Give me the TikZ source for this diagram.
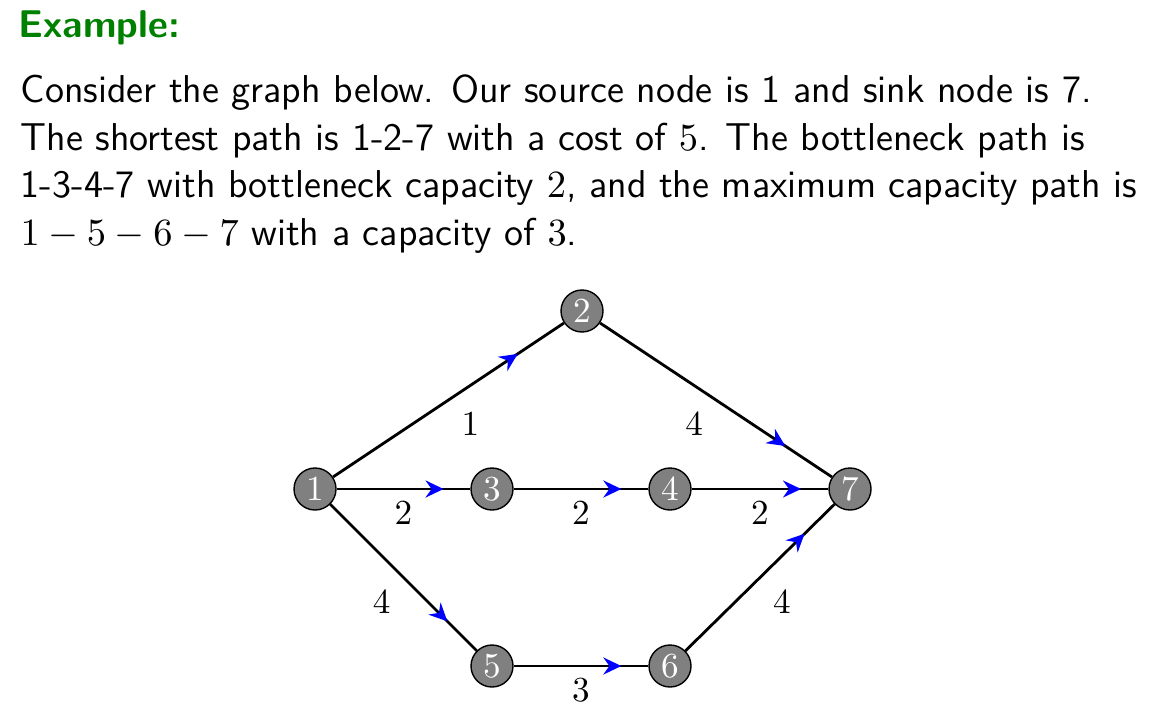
\documentclass[tikz,border=0pt]{standalone}
\usepackage{fontspec}
\usepackage{tikz}
\usetikzlibrary{arrows.meta,decorations.markings}
\definecolor{cexa}{HTML}{008000}
\definecolor{cvtx}{HTML}{808080}

\begin{document}
\begin{tikzpicture}[>=Stealth,
    vtx/.style={circle,draw=black,fill=cvtx,text=white,inner sep=0pt,minimum size=0.42cm},
    flow/.style={thick,postaction={decorate},decoration={markings,
        mark=at position 0.8 with {\arrow[blue]{Stealth[length=1.8mm,width=1.7mm,inset=0.6mm]}}}},
    wt/.style={auto=right}]
    \useasboundingbox (0,0) rectangle (11.5,-7.16);
    \node[anchor=base west,inner sep=0pt,text=cexa,font=\fontsize{11}{13.5}\selectfont\sffamily\bfseries] (title) at (0.18,-0.38) {Example:};
    \node[anchor=base west,inner sep=0pt,align=left,font=\fontsize{11.05}{13.5}\selectfont\sffamily] (para) at (0.2,-2.45)
      {Consider the graph below. Our source node is 1 and sink node is 7.\\
       The shortest path is 1-2-7 with a cost of $5$. The bottleneck path is\\
       1-3-4-7 with bottleneck capacity $2$, and the maximum capacity path is\\
       $1-5-6-7$ with a capacity of $3$.};
    \node[vtx] (v1) at (3.15,-4.89) {$1$};
    \node[vtx] (v2) at (5.82,-3.11) {$2$};
    \node[vtx] (v3) at (4.92,-4.89) {$3$};
    \node[vtx] (v4) at (6.70,-4.89) {$4$};
    \node[vtx] (v5) at (4.92,-6.66) {$5$};
    \node[vtx] (v6) at (6.70,-6.66) {$6$};
    \node[vtx] (v7) at (8.50,-4.89) {$7$};
    \draw[flow] (v1) -- node[wt] {$1$} (v2);
    \draw[flow] (v1) -- node[wt] {$2$} (v3);
    \draw[flow] (v1) -- node[wt] {$4$} (v5);
    \draw[flow] (v2) -- node[wt] {$4$} (v7);
    \draw[flow] (v3) -- node[wt] {$2$} (v4);
    \draw[flow] (v4) -- node[wt] {$2$} (v7);
    \draw[flow] (v5) -- node[wt] {$3$} (v6);
    \draw[flow] (v6) -- node[wt] {$4$} (v7);
  \end{tikzpicture}
\end{document}
